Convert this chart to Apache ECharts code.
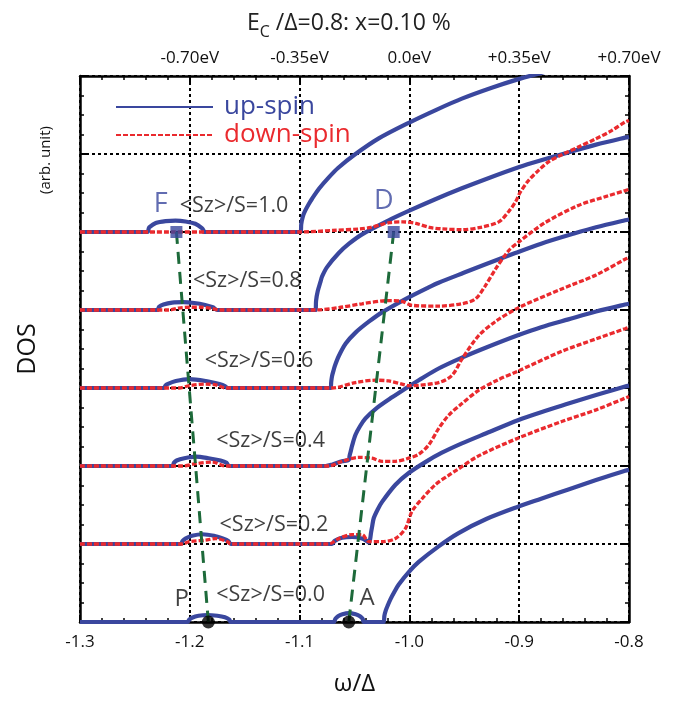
<!DOCTYPE html>
<html>
<head>
<meta charset="utf-8">
<script src="https://cdn.jsdelivr.net/npm/echarts@6/dist/echarts.min.js"></script>
<style>html,body{margin:0;padding:0;background:#fff}#c{width:674px;height:701px}</style>
</head>
<body>
<div id="c"></div>
<script>
// ---- data (omega/Delta, DOS relative to each curve's baseline) ----
const szLabels = ['<Sz>/S=0.0','<Sz>/S=0.2','<Sz>/S=0.4','<Sz>/S=0.6','<Sz>/S=0.8','<Sz>/S=1.0'];
const offsets = [0, 1, 2, 3, 4, 5];
const xTicksBottom = [-1.3, -1.2, -1.1, -1.0, -0.9, -0.8];
const xTicksTop = ['', '-0.70eV', '-0.35eV', '0.0eV', '+0.35eV', '+0.70eV'];

const up00 = [[-1.30,0],[-1.2022,0],[-1.2005,0.03],[-1.198,0.055],[-1.192,0.08],[-1.184,0.09],[-1.175,0.08],[-1.168,0.06],[-1.164,0.03],[-1.1627,0],
[-1.0688,0],[-1.0675,0.04],[-1.065,0.075],[-1.061,0.10],[-1.0552,0.115],[-1.049,0.10],[-1.045,0.075],[-1.0425,0.04],[-1.0415,0],
[-1.0234,0],[-1.0228,0.08],[-1.0215,0.15],[-1.0195,0.22],[-1.0173,0.29],[-1.0135,0.39],[-1.0097,0.48],[-1.0006,0.64],[-0.9915,0.77],[-0.9734,0.97],[-0.9552,1.14],[-0.93,1.32],[-0.9006,1.48],[-0.88,1.58],[-0.8552,1.70],[-0.83,1.82],[-0.8036,1.94],[-0.80,1.95]];
const up02 = [[-1.30,0],[-1.2082,0],[-1.2065,0.04],[-1.204,0.07],[-1.198,0.105],[-1.1885,0.125],[-1.178,0.105],[-1.170,0.07],[-1.165,0.04],[-1.1627,0],
[-1.0704,0],[-1.068,0.04],[-1.0613,0.08],[-1.0522,0.09],[-1.0431,0.07],[-1.039,0.04],[-1.037,0.02],
[-1.0358,0.06],[-1.035,0.14],[-1.034,0.22],[-1.0325,0.33],[-1.029,0.44],[-1.0249,0.54],[-1.0127,0.76],[-1.0006,0.91],[-0.9855,1.05],[-0.9704,1.17],[-0.9522,1.29],[-0.93,1.42],[-0.9006,1.59],[-0.88,1.69],[-0.8552,1.80],[-0.83,1.91],[-0.8036,2.02],[-0.80,2.03]];
const up04 = [[-1.30,0],[-1.2158,0],[-1.2145,0.04],[-1.212,0.07],[-1.205,0.10],[-1.1945,0.12],[-1.183,0.10],[-1.172,0.07],[-1.1665,0.04],[-1.1643,0],
[-1.0764,0],[-1.07,0.02],[-1.0613,0.06],[-1.0552,0.08],[-1.0545,0.13],[-1.0536,0.18],[-1.052,0.27],[-1.0491,0.40],[-1.045,0.51],[-1.04,0.61],[-1.0309,0.73],[-1.0158,0.88],[-1.0006,1.02],[-0.9915,1.10],[-0.9734,1.25],[-0.9522,1.39],[-0.93,1.52],[-0.9006,1.68],[-0.88,1.78],[-0.8552,1.88],[-0.83,1.98],[-0.8036,2.07],[-0.80,2.08]];
const up06 = [[-1.30,0],[-1.2234,0],[-1.2222,0.03],[-1.2204,0.05],[-1.2127,0.09],[-1.2006,0.115],[-1.1855,0.09],[-1.173,0.05],[-1.168,0.025],[-1.1658,0],
[-1.0718,0],[-1.0712,0.08],[-1.0705,0.15],[-1.0692,0.22],[-1.068,0.28],[-1.0643,0.41],[-1.058,0.57],[-1.0491,0.71],[-1.037,0.85],[-1.0249,0.97],[-1.0036,1.14],[-0.9825,1.29],[-0.9734,1.35],[-0.95,1.48],[-0.93,1.59],[-0.9036,1.73],[-0.88,1.85],[-0.85,1.98],[-0.83,2.06],[-0.8036,2.15],[-0.80,2.16]];
const up08 = [[-1.30,0],[-1.2295,0],[-1.228,0.04],[-1.224,0.07],[-1.216,0.095],[-1.206,0.10],[-1.196,0.09],[-1.186,0.065],[-1.179,0.035],[-1.175,0],
[-1.0855,0],[-1.085,0.12],[-1.0835,0.24],[-1.081,0.36],[-1.0795,0.43],[-1.075,0.55],[-1.0643,0.73],[-1.055,0.85],[-1.0431,0.97],[-1.0188,1.15],[-1.0006,1.27],[-0.9764,1.42],[-0.9522,1.56],[-0.93,1.68],[-0.9006,1.83],[-0.88,1.92],[-0.8552,2.02],[-0.83,2.12],[-0.8036,2.21],[-0.80,2.22]];
const up10 = [[-1.30,0],[-1.2385,0],[-1.2375,0.04],[-1.237,0.06],[-1.231,0.115],[-1.222,0.14],[-1.213,0.145],[-1.204,0.135],[-1.195,0.105],[-1.189,0.05],[-1.1875,0.02],[-1.187,0],
[-1.099,0],[-1.0985,0.10],[-1.097,0.20],[-1.095,0.27],[-1.092,0.35],[-1.0885,0.43],[-1.082,0.56],[-1.0734,0.70],[-1.065,0.82],[-1.05,0.99],[-1.0279,1.20],[-1.0006,1.40],[-0.975,1.57],[-0.9522,1.71],[-0.925,1.85],[-0.9006,1.96],[-0.88,2.04],[-0.86,2.12]];

const dn02 = [[-1.30,0],[-1.2067,0],[-1.2006,0.03],[-1.1855,0.05],[-1.1764,0.07],[-1.1658,0.03],[-1.1627,0],
[-1.0734,0],[-1.0643,0.07],[-1.0522,0.12],[-1.0431,0.12],[-1.037,0.03],[-1.0249,0.03],[-1.0127,0.07],[-1.0036,0.20],[-0.9976,0.42],[-0.9885,0.58],[-0.9764,0.76],[-0.9643,0.88],[-0.9567,0.95],[-0.937,1.13],[-0.9006,1.36],[-0.8613,1.57],[-0.83,1.72],[-0.8036,1.87],[-0.80,1.89]];
const dn04 = [[-1.30,0],[-1.2067,0],[-1.1945,0.03],[-1.1794,0.05],[-1.1673,0],
[-1.0734,0],[-1.0613,0.06],[-1.0461,0.11],[-1.034,0.10],[-1.0249,0.06],[-1.0127,0.06],[-1.0006,0.10],[-0.9915,0.15],[-0.9824,0.27],[-0.9734,0.48],[-0.9643,0.65],[-0.9522,0.80],[-0.937,0.97],[-0.92,1.10],[-0.9006,1.22],[-0.8613,1.47],[-0.83,1.63],[-0.8036,1.76],[-0.80,1.78]];
const dn06 = [[-1.30,0],[-1.2096,0],[-1.2006,0.03],[-1.1855,0.05],[-1.1764,0.04],[-1.1673,0],
[-1.0704,0],[-1.0491,0.07],[-1.0309,0.10],[-1.0188,0.09],[-1.0067,0.05],[-1.0006,0.03],[-0.9734,0.07],[-0.9613,0.16],[-0.9522,0.37],[-0.937,0.67],[-0.9218,0.85],[-0.9006,1.03],[-0.8613,1.27],[-0.83,1.45],[-0.8036,1.65],[-0.80,1.67]];
const dn08 = [[-1.30,0],[-1.219,0],[-1.21,0.025],[-1.20,0.035],[-1.19,0.035],[-1.18,0.02],[-1.173,0],
[-1.0855,0],[-1.0643,0.03],[-1.0431,0.08],[-1.0188,0.12],[-1.0067,0.11],[-0.9976,0.06],[-0.9734,0.05],[-0.9522,0.08],[-0.94,0.14],[-0.9309,0.31],[-0.9218,0.52],[-0.9097,0.76],[-0.9006,0.87],[-0.8764,1.12],[-0.8461,1.34],[-0.82,1.46],[-0.8036,1.53],[-0.80,1.55]];
const dn10 = [[-1.30,0],[-1.10,0],[-1.07,0.02],[-1.045,0.04],[-1.035,0.06],[-1.027,0.09],[-1.018,0.12],[-1.006,0.13],[-0.994,0.11],[-0.982,0.06],[-0.97,0.04],[-0.9522,0.03],[-0.935,0.06],[-0.9185,0.13],[-0.9097,0.26],[-0.9036,0.38],[-0.899,0.51],[-0.8915,0.66],[-0.8824,0.79],[-0.8733,0.90],[-0.8613,0.99],[-0.8461,1.09],[-0.8309,1.19],[-0.8158,1.30],[-0.8036,1.41],[-0.80,1.43]];

const upSeries = [up00, up02, up04, up06, up08, up10];
const dnSeries = [null, dn02, dn04, dn06, dn08, dn10];

// marked points F, D (Sz=1.0) and P, A (Sz=0.0)
const pointF = [-1.2122, 5], pointD = [-1.0143, 5];
const pointP = [-1.1831, 0], pointA = [-1.0552, 0];
// annotation positions
const szLabelPos = [[-1.1264,0.35],[-1.1234,1.25],[-1.1264,2.32],[-1.137,3.35],[-1.1476,4.37],[-1.1597,5.33]];
const letterPos = {F:[-1.2265,5.36], D:[-1.0234,5.39], P:[-1.2073,0.29], A:[-1.0386,0.31]};

// ---- chart ----
const BLUE = '#3a479e', RED = '#ea2a2e', GREEN = '#1d6a3a';
const FONT = "'Open Sans', 'Noto Sans', sans-serif";
const chart = echarts.init(document.getElementById('c'));

const shift = (arr, k) => arr.map(p => [p[0], p[1] + k]);
const series = [];
upSeries.forEach((arr, i) => {
  series.push({name:'up-spin', type:'line', data: shift(arr, offsets[i]), symbol:'none', smooth:0.3,
    lineStyle:{color:BLUE, width:4.2}, itemStyle:{color:BLUE}, z:2, silent:true});
});
dnSeries.forEach((arr, i) => {
  if (!arr) return;
  series.push({name:'down-spin', type:'line', data: shift(arr, offsets[i]), symbol:'none', smooth:0.3,
    lineStyle:{color:RED, width:3.3, type:[5,2]}, itemStyle:{color:RED}, z:3, silent:true});
});
series.push({type:'line', data:[pointF, pointP], symbol:'none', lineStyle:{color:GREEN, width:3, type:[12,8]}, z:4, silent:true});
series.push({type:'line', data:[pointD, pointA], symbol:'none', lineStyle:{color:GREEN, width:3, type:[12,8]}, z:4, silent:true});
series.push({type:'scatter', data:[pointF, pointD], symbol:'rect', symbolSize:12, itemStyle:{color:BLUE}, z:5, clip:false, silent:true});
series.push({type:'scatter', data:[pointP, pointA], symbol:'circle', symbolSize:13, itemStyle:{color:'#000'}, z:5, clip:false, silent:true});
series.push({type:'scatter', symbolSize:0, z:6, silent:true,
  data: szLabels.map((t, i) => ({name:t, value:szLabelPos[i]})),
  label:{show:true, position:'inside', formatter:'{b}', fontSize:21.5, fontFamily:FONT, color:'#0d0d0d'}});
series.push({type:'scatter', symbolSize:0, z:6, silent:true,
  data: Object.keys(letterPos).map(k => ({name:k, value:letterPos[k],
    label:{color: (k==='F'||k==='D') ? BLUE : '#111', fontSize: (k==='F'||k==='D') ? 27 : 24}})),
  label:{show:true, position:'inside', formatter:'{b}', fontFamily:FONT}});

const axisCommon = {
  type:'value', min:-1.3, max:-0.8, interval:0.1,
  axisLine:{show:true, onZero:false, lineStyle:{color:'#000', width:2.5}},
  axisTick:{show:true, inside:true, length:7, lineStyle:{color:'#000', width:2}},
  minorTick:{show:true, splitNumber:5, length:4, lineStyle:{color:'#000', width:1.5}},
};
const yCommon = {
  type:'value', min:0, max:7, interval:1,
  axisLine:{show:true, onZero:false, lineStyle:{color:'#000', width:2.5}},
  axisTick:{show:true, inside:true, length:7, lineStyle:{color:'#000', width:2}},
  minorTick:{show:true, splitNumber:4, length:4, lineStyle:{color:'#000', width:1.5}},
  axisLabel:{show:false}
};

chart.setOption({
  animation:false,
  backgroundColor:'#fff',
  title:{
    text:'{a|E}{b|C}{a| /Δ=0.8: x=0.10 %}', left:242, top:2,
    textStyle:{fontWeight:'normal', rich:{
      a:{fontSize:23, fontFamily:FONT, fontWeight:'normal', color:'#222', lineHeight:33},
      b:{fontSize:16, fontFamily:FONT, fontWeight:'normal', color:'#222', lineHeight:16, verticalAlign:'bottom'}
    }}
  },
  legend:{
    orient:'vertical', left:110, top:89, itemWidth:97, itemHeight:14, itemGap:2, selectedMode:false,
    itemStyle:{opacity:0, borderWidth:0},
    textStyle:{fontSize:26, fontFamily:FONT, padding:[0,0,0,6]},
    data:[{name:'up-spin', textStyle:{color:BLUE}}, {name:'down-spin', textStyle:{color:RED}}]
  },
  grid:{left:80, right:45, top:76, bottom:78},
  xAxis:[
    Object.assign({}, axisCommon, {position:'bottom',
      name:'ω/Δ', nameLocation:'middle', nameGap:50, nameTextStyle:{fontSize:24, fontFamily:FONT, color:'#111'},
      axisLabel:{fontSize:17, fontFamily:FONT, color:'#111', margin:12, formatter:v => v.toFixed(1)},
      splitLine:{show:true, lineStyle:{color:'#000', width:2, type:[3,3]}}}),
    Object.assign({}, axisCommon, {position:'top',
      axisLabel:{fontSize:17, fontFamily:FONT, color:'#111', margin:9,
        formatter:v => xTicksTop[xTicksBottom.findIndex(t => Math.abs(t - v) < 1e-6)] || ''},
      splitLine:{show:false}})
  ],
  yAxis:[
    Object.assign({}, yCommon, {position:'left', name:'DOS', nameLocation:'middle', nameGap:40, nameRotate:90,
      nameTextStyle:{fontSize:25, fontFamily:FONT, color:'#111'},
      splitLine:{show:true, lineStyle:{color:'#000', width:2, type:[3,3]}}}),
    Object.assign({}, yCommon, {position:'right', splitLine:{show:false}})
  ],
  graphic:[{type:'text', x:46, y:160, rotation:Math.PI/2,
    style:{text:'(arb. unit)', fontSize:15, fontFamily:FONT, fill:'#111', align:'center', verticalAlign:'middle'}}],
  series: series
});
</script>
</body>
</html>
